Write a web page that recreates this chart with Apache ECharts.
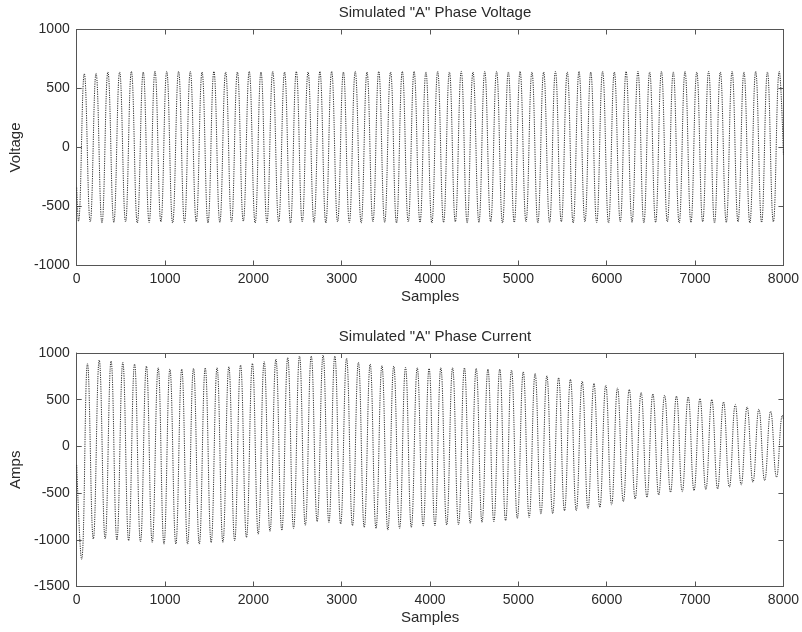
<!DOCTYPE html>
<html>
<head>
<meta charset="utf-8">
<script src="https://cdn.jsdelivr.net/npm/echarts@6/dist/echarts.min.js"></script>
<style>
html,body{margin:0;padding:0;background:#fff;}
#chart{width:802px;height:632px;}
</style>
</head>
<body>
<div id="chart"></div>
<script>
// ---- Data (sample index / value of each half-cycle extreme) ----
const xTicks = [0, 1000, 2000, 3000, 4000, 5000, 6000, 7000, 8000];

// Voltage
const voltageStart = [0, -340];
const voltageEnd = [8000, -60];
const voltageTroughSamples = [20, 153, 286, 420, 553, 686, 820, 953, 1086, 1220, 1353, 1486, 1620, 1753, 1886, 2020, 2153, 2286, 2420, 2553, 2686, 2820, 2953, 3086, 3220, 3353, 3486, 3620, 3753, 3886, 4020, 4153, 4286, 4420, 4553, 4686, 4820, 4953, 5086, 5220, 5353, 5486, 5620, 5753, 5886, 6020, 6153, 6286, 6420, 6553, 6686, 6820, 6953, 7086, 7220, 7353, 7486, 7620, 7753, 7886];
const voltageTroughs = [-625, -630, -640, -635, -630, -640, -635, -630, -640, -635, -630, -640, -635, -630, -625, -640, -635, -630, -640, -630, -635, -640, -630, -635, -640, -630, -635, -640, -630, -635, -640, -635, -630, -640, -635, -630, -640, -635, -630, -640, -635, -630, -640, -630, -635, -640, -630, -635, -640, -635, -630, -640, -635, -630, -640, -635, -630, -640, -635, -630];
const voltagePeakSamples = [86, 219, 353, 486, 619, 753, 886, 1019, 1153, 1286, 1419, 1553, 1686, 1819, 1953, 2086, 2219, 2353, 2486, 2619, 2753, 2886, 3019, 3153, 3286, 3419, 3553, 3686, 3819, 3953, 4086, 4219, 4353, 4486, 4619, 4753, 4886, 5019, 5153, 5286, 5419, 5553, 5686, 5819, 5953, 6086, 6219, 6353, 6486, 6619, 6753, 6886, 7019, 7153, 7286, 7419, 7553, 7686, 7819, 7953];
const voltagePeaks = [625, 628, 640, 640, 645, 640, 648, 645, 645, 645, 640, 645, 640, 640, 645, 640, 645, 640, 645, 640, 645, 645, 640, 645, 640, 645, 640, 645, 645, 640, 645, 640, 645, 640, 645, 645, 640, 645, 640, 640, 645, 640, 645, 640, 645, 640, 645, 645, 640, 645, 640, 645, 640, 645, 640, 645, 640, 645, 640, 645];

// Current
const currentStart = [0, -200];
const currentEnd = [8000, 290];
const currentTroughSamples = [55, 188, 322, 455, 588, 722, 855, 988, 1122, 1255, 1388, 1522, 1655, 1788, 1922, 2055, 2188, 2322, 2455, 2588, 2722, 2855, 2988, 3122, 3255, 3388, 3522, 3655, 3788, 3922, 4055, 4188, 4322, 4455, 4588, 4722, 4855, 4988, 5122, 5255, 5388, 5522, 5655, 5788, 5922, 6055, 6188, 6322, 6455, 6588, 6722, 6855, 6988, 7122, 7255, 7388, 7522, 7655, 7788, 7922];
const currentTroughs = [-1210, -992, -990, -1003, -1010, -1021, -1028, -1046, -1046, -1046, -1046, -1030, -1028, -1010, -975, -940, -910, -900, -878, -845, -805, -813, -831, -849, -867, -878, -896, -878, -867, -849, -849, -842, -838, -824, -813, -806, -796, -771, -760, -724, -720, -688, -688, -670, -652, -627, -591, -563, -545, -520, -491, -484, -473, -462, -455, -437, -412, -384, -366, -330];
const currentPeakSamples = [122, 255, 389, 522, 655, 789, 922, 1055, 1189, 1322, 1455, 1589, 1722, 1855, 1989, 2122, 2255, 2389, 2522, 2655, 2789, 2922, 3055, 3189, 3322, 3455, 3589, 3722, 3855, 3989, 4122, 4255, 4389, 4522, 4655, 4789, 4922, 5055, 5189, 5322, 5455, 5589, 5722, 5855, 5989, 6122, 6255, 6389, 6522, 6655, 6789, 6922, 7055, 7189, 7322, 7455, 7589, 7722, 7855, 7989];
const currentPeaks = [885, 925, 914, 900, 882, 860, 842, 828, 828, 835, 842, 842, 853, 871, 889, 907, 935, 950, 968, 968, 978, 968, 943, 900, 882, 864, 860, 846, 842, 835, 842, 842, 842, 835, 828, 828, 817, 799, 781, 756, 735, 717, 699, 674, 656, 627, 609, 577, 562, 548, 538, 530, 512, 502, 476, 448, 423, 398, 376, 333];

// ---- Build series points from the arrays ----
function buildWave(start, tS, tV, pS, pV, end) {
  const pts = [start];
  for (let i = 0; i < tS.length; i++) pts.push([tS[i], tV[i]]);
  for (let i = 0; i < pS.length; i++) pts.push([pS[i], pV[i]]);
  pts.sort((a, b) => a[0] - b[0]);
  pts.push(end);
  return pts;
}
const voltageData = buildWave(voltageStart, voltageTroughSamples, voltageTroughs, voltagePeakSamples, voltagePeaks, voltageEnd);
const currentData = buildWave(currentStart, currentTroughSamples, currentTroughs, currentPeakSamples, currentPeaks, currentEnd);

const FONT = '"Liberation Sans", Arial, Helvetica, sans-serif';
const AXIS_COLOR = '#555';
const TEXT_COLOR = '#2a2a2a';
const plain = v => String(v);

function xAxisPair(gridIndex) {
  const base = {
    gridIndex, type: 'value', min: xTicks[0], max: xTicks[xTicks.length - 1], interval: xTicks[1] - xTicks[0],
    axisLine: { show: true, onZero: false, lineStyle: { color: AXIS_COLOR, width: 1 } },
    axisTick: { show: true, inside: true, length: 5, lineStyle: { color: AXIS_COLOR } },
    splitLine: { show: false }
  };
  return [
    Object.assign({}, base, {
      position: 'bottom',
      name: 'Samples', nameLocation: 'middle', nameGap: 24,
      nameTextStyle: { fontFamily: FONT, fontSize: 15, color: TEXT_COLOR },
      axisLabel: { fontFamily: FONT, fontSize: 14, color: TEXT_COLOR, margin: 7, formatter: plain }
    }),
    Object.assign({}, base, { position: 'top', axisLabel: { show: false } })
  ];
}
function yAxisPair(gridIndex, min, name) {
  const base = {
    gridIndex, type: 'value', min, max: 1000, interval: 500,
    axisLine: { show: true, onZero: false, lineStyle: { color: AXIS_COLOR, width: 1 } },
    axisTick: { show: true, inside: true, length: 5, lineStyle: { color: AXIS_COLOR } },
    splitLine: { show: false }
  };
  return [
    Object.assign({}, base, {
      position: 'left',
      name, nameLocation: 'middle', nameGap: 50,
      nameTextStyle: { fontFamily: FONT, fontSize: 15, color: TEXT_COLOR },
      axisLabel: { fontFamily: FONT, fontSize: 14, color: TEXT_COLOR, margin: 7, formatter: plain }
    }),
    Object.assign({}, base, { position: 'right', axisLabel: { show: false } })
  ];
}

const lineStyle = { color: '#2e2e2e', width: 1, type: [1.2, 1.1] };

const chart = echarts.init(document.getElementById('chart'), null, { renderer: 'canvas' });
chart.setOption({
  backgroundColor: '#fff',
  animation: false,
  title: [
    { text: 'Simulated "A" Phase Voltage', left: 430, top: 0, textAlign: 'center',
      textStyle: { fontFamily: FONT, fontSize: 15, fontWeight: 'normal', color: TEXT_COLOR } },
    { text: 'Simulated "A" Phase Current', left: 430, top: 324, textAlign: 'center',
      textStyle: { fontFamily: FONT, fontSize: 15, fontWeight: 'normal', color: TEXT_COLOR } }
  ],
  grid: [
    { left: 76, right: 18, top: 29.5, height: 236 },
    { left: 76.5, right: 18, top: 353, height: 233.5 }
  ],
  xAxis: [...xAxisPair(0), ...xAxisPair(1)],
  yAxis: [...yAxisPair(0, -1000, 'Voltage'), ...yAxisPair(1, -1500, 'Amps')],
  series: [
    { type: 'line', xAxisIndex: 0, yAxisIndex: 0, data: voltageData, showSymbol: false,
      smooth: 0.45, lineStyle, silent: true },
    { type: 'line', xAxisIndex: 2, yAxisIndex: 2, data: currentData, showSymbol: false,
      smooth: 0.45, lineStyle, silent: true }
  ]
});
</script>
</body>
</html>
